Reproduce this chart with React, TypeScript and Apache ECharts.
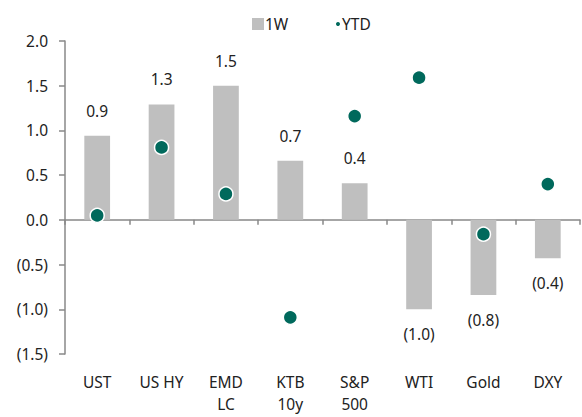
import React, { useEffect, useRef } from "react";
import * as echarts from "echarts";

const categories = ["UST", "US HY", "EMD\nLC", "KTB\n10y", "S&P\n500", "WTI", "Gold", "DXY"];
const weekValues = [0.94, 1.29, 1.5, 0.66, 0.41, -1.0, -0.84, -0.43];
const ytdValues = [0.05, 0.81, 0.29, -1.09, 1.16, 1.59, -0.16, 0.4];
const yMin = -1.5;
const yMax = 2.0;
const yInterval = 0.5;

const fmt = (v: number) => (v < 0 ? `(${Math.abs(v).toFixed(1)})` : v.toFixed(1));
const FONT = "Noto Sans";
const TXT = "#222";
const FS = 15.5;

export default function App() {
  const ref = useRef<HTMLDivElement>(null);
  useEffect(() => {
    document.body.style.margin = "0";
    document.body.style.overflow = "hidden";
    const chart = echarts.init(ref.current!, null, { renderer: "svg" });
    chart.setOption({
      animation: false,
      textStyle: { fontFamily: FONT },
      legend: [
        {
          data: ["1W"],
          left: 247,
          top: 11,
          itemWidth: 12,
          itemHeight: 12,
          itemGap: 4,
          icon: "rect",
          textStyle: { fontSize: FS, color: TXT, fontFamily: FONT, padding: [0, 0, 0, -4] },
        },
        {
          data: ["YTD"],
          left: 329,
          top: 11,
          itemWidth: 6,
          itemHeight: 6,
          icon: "circle",
          textStyle: { fontSize: FS, color: TXT, fontFamily: FONT, padding: [0, 0, 0, -4] },
        },
      ],
      grid: { left: 65, right: 2, top: 41, bottom: 63, containLabel: false },
      xAxis: [
        {
          type: "category",
          data: categories,
          axisLine: { onZero: true, lineStyle: { color: "#888", width: 1.5 } },
          axisTick: { show: true, length: 5, lineStyle: { color: "#888", width: 1.5 } },
          axisLabel: { show: false },
        },
        {
          type: "category",
          data: categories,
          position: "bottom",
          axisLine: { show: false, onZero: false },
          axisTick: { show: false },
          axisLabel: {
            show: true,
            margin: 17,
            fontSize: FS,
            color: TXT,
            lineHeight: 22,
            fontFamily: FONT,
            interval: 0,
          },
        },
      ],
      yAxis: {
        type: "value",
        min: yMin,
        max: yMax,
        interval: yInterval,
        axisLine: { show: true, lineStyle: { color: "#888", width: 1.5 } },
        axisTick: { show: true, length: 6, lineStyle: { color: "#888", width: 1.5 } },
        splitLine: { show: false },
        axisLabel: {
          formatter: fmt,
          fontSize: FS,
          color: TXT,
          margin: 17,
          fontFamily: FONT,
        },
      },
      series: [
        {
          name: "1W",
          type: "bar",
          xAxisIndex: 0,
          data: weekValues.map((v) => ({
            value: v,
            label: { position: v < 0 ? "bottom" : "top" },
          })),
          barWidth: "40%",
          itemStyle: { color: "#BFBFBF" },
          label: {
            show: true,
            formatter: (p: any) => fmt(p.value),
            distance: 17,
            fontSize: FS,
            color: TXT,
            fontFamily: FONT,
          },
        },
        {
          name: "YTD",
          type: "scatter",
          xAxisIndex: 0,
          data: ytdValues,
          symbolSize: 14,
          itemStyle: { color: "#00695C", opacity: 1, borderColor: "#fff", borderWidth: 1.5 },
          z: 5,
        },
      ],
    });
    return () => chart.dispose();
  }, []);
  return <div ref={ref} style={{ width: 582, height: 417 }} />;
}
